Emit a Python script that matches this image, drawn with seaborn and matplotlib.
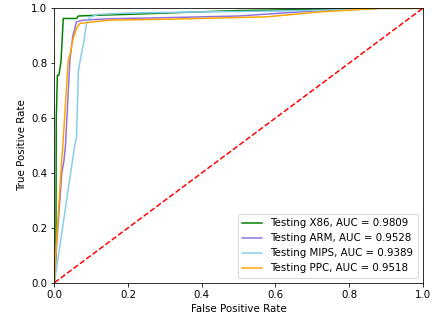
import numpy as np
import pandas as pd
import matplotlib
matplotlib.use("Agg")
import matplotlib.pyplot as plt
import seaborn as sns

plt.rcParams["font.size"] = 10.25

labels = ["Testing X86, AUC = 0.9809", "Testing ARM, AUC = 0.9528",
          "Testing MIPS, AUC = 0.9389", "Testing PPC, AUC = 0.9518"]
colors = ["green", "mediumpurple", "skyblue", "orange"]

x86_fpr = [0, 0.004, 0.005, 0.008, 0.012, 0.016, 0.018, 0.024, 0.06, 0.065, 0.12, 0.2, 0.35, 0.5, 0.7, 0.88, 1.0]
x86_tpr = [0, 0.1, 0.6, 0.756, 0.756, 0.79, 0.81, 0.963, 0.963, 0.972, 0.975, 0.978, 0.985, 0.992, 0.996, 1.0, 1.0]

arm_fpr = [0, 0.003, 0.02, 0.024, 0.026, 0.03, 0.042, 0.05, 0.06, 0.078, 0.15, 0.3, 0.5, 0.7, 0.88, 1.0]
arm_tpr = [0, 0.08, 0.4, 0.43, 0.447, 0.5, 0.81, 0.9, 0.951, 0.957, 0.962, 0.966, 0.972, 0.99, 1.0, 1.0]

mips_fpr = [0, 0.055, 0.06, 0.065, 0.07, 0.08, 0.088, 0.096, 0.12, 0.2, 0.4, 0.6, 0.8, 0.88, 1.0]
mips_tpr = [0, 0.5, 0.53, 0.77, 0.81, 0.88, 0.955, 0.968, 0.978, 0.983, 0.987, 0.99, 0.995, 1.0, 1.0]

ppc_fpr = [0, 0.002, 0.0196, 0.022, 0.0375, 0.042, 0.051, 0.06, 0.069, 0.15, 0.3, 0.577, 0.72, 0.885, 1.0]
ppc_tpr = [0, 0.07, 0.447, 0.483, 0.81, 0.83, 0.89, 0.927, 0.945, 0.957, 0.96, 0.969, 0.987, 1.0, 1.0]

series = [(x86_fpr, x86_tpr), (arm_fpr, arm_tpr), (mips_fpr, mips_tpr), (ppc_fpr, ppc_tpr)]
frames = []
for lab, (f, t) in zip(labels, series):
    frames.append(pd.DataFrame({"fpr": f, "tpr": t, "model": lab}))
df = pd.concat(frames, ignore_index=True)

fig, ax = plt.subplots(figsize=(6, 320 / 72), dpi=72)
fig.subplots_adjust(left=0.126, right=0.9785, bottom=0.1166, top=0.974)

sns.lineplot(data=df, x="fpr", y="tpr", hue="model", palette=dict(zip(labels, colors)),
             sort=False, estimator=None, ax=ax, linewidth=1.5)
ax.plot([0, 1], [0, 1], "r--", linewidth=1.5)

ax.set_xlim(0, 1)
ax.set_ylim(0, 1)
ax.set_xticks(np.arange(0, 1.01, 0.2))
ax.set_yticks(np.arange(0, 1.01, 0.2))
ax.set_xlabel("False Positive Rate")
ax.set_ylabel("True Positive Rate")
ax.legend(loc="lower right", title=None)

fig.savefig("out.png", dpi=72)
